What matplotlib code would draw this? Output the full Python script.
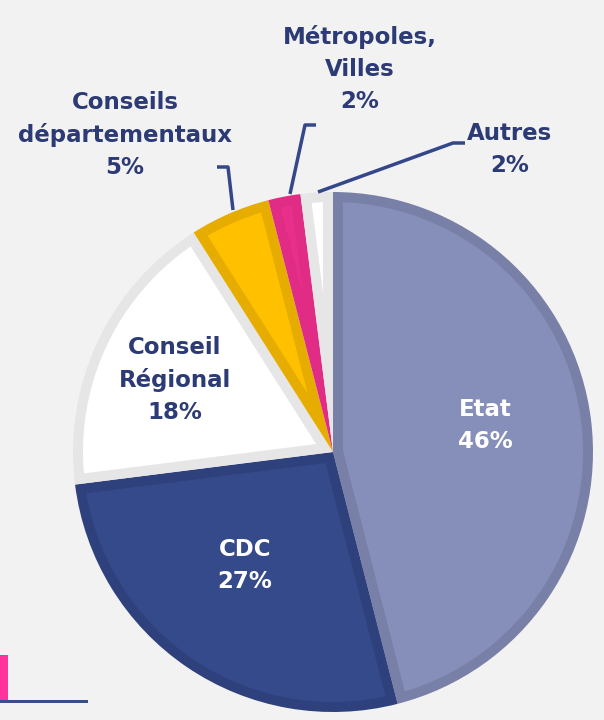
import matplotlib
matplotlib.use("Agg")
import numpy as np
from matplotlib import pyplot as plt
from matplotlib.patches import Rectangle, Polygon

labels = ["Etat", "CDC", "Conseil\nRégional", "Conseils\ndépartementaux", "Métropoles,\nVilles", "Autres"]
shares = [46, 27, 18, 5, 2, 2]
fills = ["#868EBA", "#354A8A", "#FFFFFF", "#FFC000", "#E8308A", "#FFFFFF"]
edges = ["#7880A8", "#2E417C", "#E6E6E6", "#E6AD00", "#E02C84", "#E6E6E6"]

navy = "#2C3B76"
bg = "#F2F2F2"
H = 720


def inset_wedge(cx, cy, r, t1, t2, d):
    # inner part of a wedge, shrunk by d on every side
    half = np.radians((t2 - t1) / 2)
    mid = np.radians((t1 + t2) / 2)
    a = d / np.sin(half) if half < np.pi / 2 else d
    R = r - d
    delta = np.degrees(np.arcsin(d / R))
    ang = np.radians(np.linspace(t1 + delta, t2 - delta, 80))
    pts = [(cx + a * np.cos(mid), cy + a * np.sin(mid))]
    pts += list(zip(cx + R * np.cos(ang), cy + R * np.sin(ang)))
    return pts


fig = plt.figure(figsize=(6.04, 7.2), dpi=100, facecolor=bg)
ax = fig.add_axes([0, 0, 1, 1])

cx, cy, r = 333, H - 452, 260
wedges, _ = ax.pie(shares, colors=edges, startangle=90, counterclock=False,
                   center=(cx, cy), radius=r, frame=True,
                   wedgeprops=dict(linewidth=0))
for w, fc in zip(wedges, fills):
    t1, t2 = sorted((w.theta1, w.theta2))
    ax.add_patch(Polygon(inset_wedge(cx, cy, r, t1, t2, 10), closed=True,
                         facecolor=fc, edgecolor="none"))

ax.set_xlim(0, 604)
ax.set_ylim(0, H)
ax.set_aspect("equal")
ax.axis("off")

font = dict(family=["DejaVu Sans"], fontweight="bold", fontsize=16.5,
            ha="center", va="center", linespacing=1.5)

# labels inside the pie
ax.text(485, H - 425, f"{labels[0]}\n{shares[0]}%", color="white", **font)
ax.text(245, H - 565, f"{labels[1]}\n{shares[1]}%", color="white", **font)
ax.text(175, H - 380, f"{labels[2]}\n{shares[2]}%", color=navy, **font)

# labels outside with leader lines
ax.text(125, H - 135, f"{labels[3]}\n{shares[3]}%", color=navy, **font)
ax.text(360, H - 69, f"{labels[4]}\n{shares[4]}%", color=navy, **font)
ax.text(510, H - 149, f"{labels[5]}\n{shares[5]}%", color=navy, **font)

leaders = [
    ([233, 228, 217], [210, 167, 167]),
    ([290, 305, 316], [194, 125, 125]),
    ([318, 453, 465], [192, 143, 143]),
]
for xs, ys in leaders:
    ax.plot(xs, [H - y for y in ys], color="#34478A", lw=2.5, solid_capstyle="butt")

# corner decoration
ax.add_patch(Rectangle((0, H - 701), 8, 46, color="#FF3399", lw=0))
ax.add_patch(Rectangle((0, H - 703), 88, 3, color="#3A4E8C", lw=0))

fig.savefig("out.png", dpi=100, facecolor=bg)
